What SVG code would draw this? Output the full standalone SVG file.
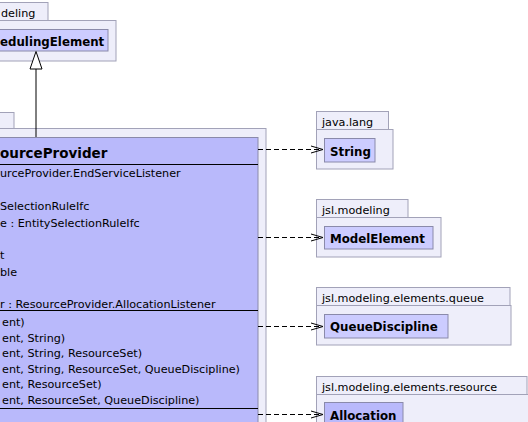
<svg xmlns="http://www.w3.org/2000/svg" width="528" height="422" viewBox="0 0 528 422">
<style>
.pkg{fill:#eeeefa;stroke:#a2a2b8;stroke-width:1}
.cls{fill:#ccccff;stroke:#8a8aaa;stroke-width:1}
.clsm{fill:#b9b9fb;stroke:#8a8aaa;stroke-width:1}
.sep{stroke:#000;stroke-width:1}
.t{font-family:"DejaVu Sans",Verdana,sans-serif;font-size:11.2px;fill:#000}
.b{font-family:"DejaVu Sans",Verdana,sans-serif;font-weight:bold;font-size:11.8px;fill:#000}
.h{font-family:"DejaVu Sans",Verdana,sans-serif;font-weight:bold;font-size:13.5px;fill:#000}
.dep{fill:none;stroke:#000;stroke-width:1;stroke-dasharray:5,3}
.ah{fill:none;stroke:#000;stroke-width:1}
</style>
<rect width="528" height="422" fill="#fff"/>
<g id="pkg-modeling">
<rect class="pkg" x="-10" y="2.5" width="58" height="18"/>
<rect class="pkg" x="-10" y="20.5" width="126" height="40.5"/>
<text class="t" x="1" y="16.5">deling</text>
</g>
<g id="SchedulingElement">
<rect class="cls" x="-10" y="29.5" width="118" height="21.5"/>
<text class="b" x="0" y="45.5">edulingElement</text>
</g>
<g id="pkg-resource-main">
<rect class="pkg" x="-10" y="112.5" width="24" height="16"/>
<rect class="pkg" x="-10" y="128.5" width="276" height="310"/>
</g>
<g id="ResourceProvider">
<rect class="clsm" x="-10" y="137.5" width="268" height="300"/>
<text class="h" x="0" y="157.5">ourceProvider</text>
<line class="sep" x1="-10" y1="164.5" x2="258" y2="164.5"/>
<text class="t" x="0" y="177">urceProvider.EndServiceListener</text>
<text class="t" x="0" y="210">SelectionRuleIfc</text>
<text class="t" x="0" y="226.5">e : EntitySelectionRuleIfc</text>
<text class="t" x="0" y="259">t</text>
<text class="t" x="0" y="275.5">ble</text>
<text class="t" x="0" y="308">r : ResourceProvider.AllocationListener</text>
<line class="sep" x1="-10" y1="310.5" x2="258" y2="310.5"/>
<text class="t" x="2" y="326">ent)</text>
<text class="t" x="2" y="341.5">ent, String)</text>
<text class="t" x="2" y="357">ent, String, ResourceSet)</text>
<text class="t" x="2" y="372.5">ent, String, ResourceSet, QueueDiscipline)</text>
<text class="t" x="2" y="388">ent, ResourceSet)</text>
<text class="t" x="2" y="403.5">ent, ResourceSet, QueueDiscipline)</text>
<line class="sep" x1="-10" y1="408.5" x2="258" y2="408.5"/>
</g>
<g id="pkg-java-lang">
<rect class="pkg" x="316.5" y="111.5" width="72" height="18"/>
<rect class="pkg" x="316.5" y="129.5" width="76.5" height="39.5"/>
<text class="t" x="322" y="125.5">java.lang</text>
</g>
<g id="String">
<rect class="cls" x="324.5" y="138.5" width="50.5" height="23.5"/>
<text class="b" x="330" y="155.5">String</text>
</g>
<g id="pkg-jsl-modeling">
<rect class="pkg" x="316.5" y="199.5" width="91.5" height="18"/>
<rect class="pkg" x="316.5" y="217.5" width="124.5" height="39.5"/>
<text class="t" x="322" y="213.5">jsl.modeling</text>
</g>
<g id="ModelElement">
<rect class="cls" x="324.5" y="226.5" width="108.5" height="22.5"/>
<text class="b" x="330" y="243">ModelElement</text>
</g>
<g id="pkg-queue">
<rect class="pkg" x="316.5" y="287.5" width="193.5" height="18"/>
<rect class="pkg" x="316.5" y="305.5" width="194.5" height="39.5"/>
<text class="t" x="322" y="301.5">jsl.modeling.elements.queue</text>
</g>
<g id="QueueDiscipline">
<rect class="cls" x="324.5" y="314.5" width="123.5" height="23.5"/>
<text class="b" x="330" y="331">QueueDiscipline</text>
</g>
<g id="pkg-resource">
<rect class="pkg" x="316.5" y="376.5" width="210.5" height="18"/>
<rect class="pkg" x="316.5" y="394.5" width="220" height="40"/>
<text class="t" x="322" y="390.5">jsl.modeling.elements.resource</text>
</g>
<g id="Allocation">
<rect class="clsm" x="324.5" y="402.5" width="78.5" height="30"/>
<text class="b" x="330" y="419.5">Allocation</text>
</g>
<g id="connectors">
<line class="ah" x1="36" y1="137" x2="36" y2="69"/>
<polygon points="36,51.5 30,69 42,69" fill="#fff" stroke="#000" stroke-width="1"/>
<line class="dep" x1="258" y1="149.5" x2="322" y2="149.5"/>
<polyline class="ah" points="311,146 323,149.5 311,153"/>
<line class="dep" x1="258" y1="237.5" x2="322" y2="237.5"/>
<polyline class="ah" points="311,234 323,237.5 311,241"/>
<line class="dep" x1="258" y1="326.5" x2="322" y2="326.5"/>
<polyline class="ah" points="311,323 323,326.5 311,330"/>
<line class="dep" x1="258" y1="414.5" x2="322" y2="414.5"/>
<polyline class="ah" points="311,411 323,414.5 311,418"/>
</g>
</svg>
